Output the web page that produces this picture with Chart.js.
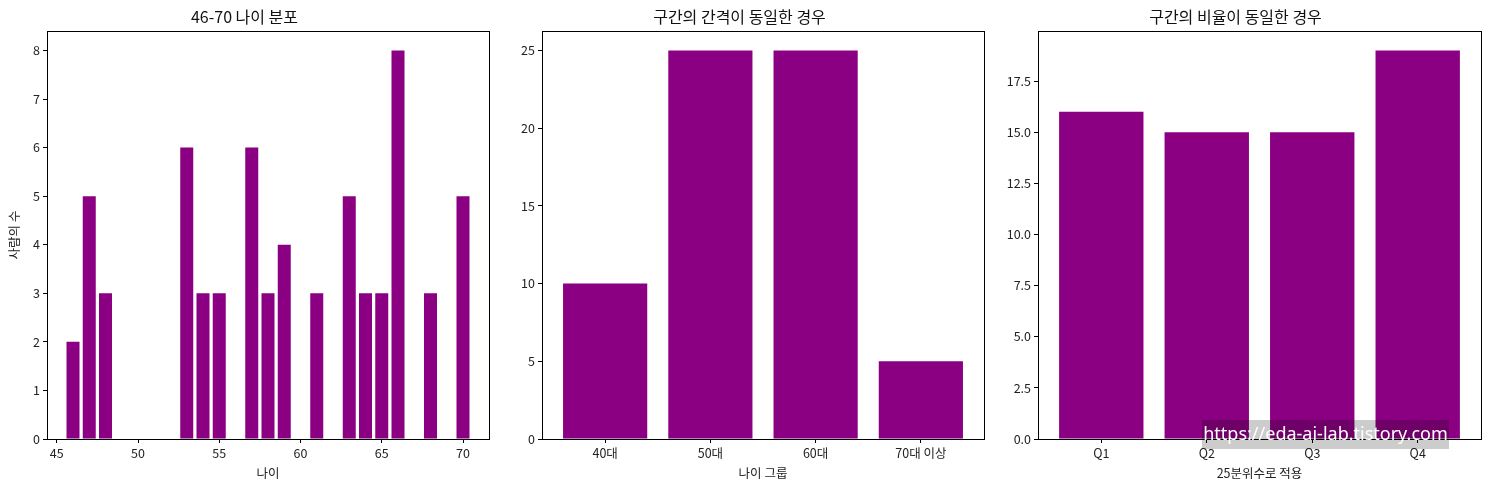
<!DOCTYPE html>
<html>
<head>
<meta charset="utf-8">
<script src="https://cdn.jsdelivr.net/npm/chart.js@4/dist/chart.umd.min.js"></script>
<style>
  body { margin: 0; background: #fff; width: 1489px; height: 490px; position: relative; overflow: hidden; }
  .panel { position: absolute; top: 0; height: 490px; }
  #mark {
    position: absolute; left: 1202px; top: 420px; width: 247px; height: 29px;
    background: rgba(0,0,0,0.2); color: #fff; font: 18px "Noto Sans", "Noto Sans CJK KR", sans-serif;
    line-height: 27px; text-align: center; white-space: nowrap;
  }
</style>
</head>
<body>
<div class="panel" style="left:0;width:490px"><canvas id="c1"></canvas></div>
<div class="panel" style="left:495px;width:490px"><canvas id="c2"></canvas></div>
<div class="panel" style="left:990px;width:492px"><canvas id="c3"></canvas></div>
<div id="mark">https://eda-ai-lab.tistory.com</div>
<script>
"use strict";

// data
const ages = [46, 47, 48, 53, 54, 55, 57, 58, 59, 61, 63, 64, 65, 66, 68, 70];
const ageCounts = [2, 5, 3, 6, 3, 3, 6, 3, 4, 3, 5, 3, 3, 8, 3, 5];
const ageTicks = [45, 50, 55, 60, 65, 70];

const ageGroups = ["40대", "50대", "60대", "70대 이상"];
const groupCounts = [10, 25, 25, 5];

const quartiles = ["Q1", "Q2", "Q3", "Q4"];
const quartileCounts = [16, 15, 15, 19];

const PURPLE = "#8b0083";
const FONT = '"Noto Sans CJK KR", "Noto Sans", sans-serif';

Chart.defaults.font.family = FONT;
Chart.defaults.color = "#222";
Chart.defaults.animation = false;

// matplotlib style box around plot area
const boxPlugin = {
  id: "box",
  afterDraw(chart) {
    const a = chart.chartArea;
    const ctx = chart.ctx;
    ctx.save();
    ctx.strokeStyle = "#000";
    ctx.lineWidth = 1;
    ctx.strokeRect(Math.round(a.left) + 0.5, Math.round(a.top) + 0.5,
      Math.round(a.right - a.left), Math.round(a.bottom - a.top));
    ctx.restore();
  }
};

function makeChart(id, cfg) {
  const points = cfg.xs.map((x, i) => ({ x: x, y: cfg.ys[i] }));
  return new Chart(document.getElementById(id), {
    type: "bar",
    data: {
      datasets: [{
        data: points,
        backgroundColor: PURPLE,
        borderWidth: 0,
        inflateAmount: 0,
        categoryPercentage: 1,
        barPercentage: 0.8
      }]
    },
    options: {
      responsive: false,
      devicePixelRatio: 1,
      layout: { padding: { top: 0, right: 1, bottom: 0, left: 0 } },
      plugins: {
        legend: { display: false },
        tooltip: { enabled: false },
        title: {
          display: true,
          text: cfg.title,
          color: "#111",
          font: { size: 16, weight: "normal" },
          padding: { top: 7, bottom: 4.8 }
        }
      },
      scales: {
        x: {
          type: "linear",
          offset: false,
          bounds: "data",
          min: cfg.xMin,
          max: cfg.xMax,
          grid: { offset: false, drawOnChartArea: false, drawTicks: true, tickLength: 4, color: "#000" },
          border: { display: false },
          afterBuildTicks: s => { s.ticks = cfg.xTicks.map(v => ({ value: v })); },
          ticks: {
            autoSkip: false,
            maxRotation: 0,
            padding: 3,
            font: { size: 12.5 },
            callback: cfg.xLabel
          },
          title: {
            display: true,
            text: cfg.xTitle,
            font: { size: 12.5 },
            padding: { top: 0, bottom: 9 }
          },
          afterFit: s => { s.height = 51; }
        },
        y: {
          min: 0,
          max: cfg.yMax,
          bounds: "data",
          grid: { drawOnChartArea: false, drawTicks: true, tickLength: 4, color: "#000" },
          border: { display: false },
          afterBuildTicks: s => { s.ticks = cfg.yTicks.map(v => ({ value: v })); },
          ticks: {
            padding: 3,
            font: { size: 12.5 },
            callback: cfg.yLabel
          },
          title: {
            display: !!cfg.yTitle,
            text: cfg.yTitle || "",
            font: { size: 12.5 },
            padding: { top: 7, bottom: 0 }
          },
          afterFit: s => { s.width = cfg.yWidth; }
        }
      }
    },
    plugins: [boxPlugin]
  });
}

const canvases = [["c1", 490], ["c2", 490], ["c3", 492]];
canvases.forEach(([id, w]) => {
  const c = document.getElementById(id);
  c.width = w; c.height = 490;
  c.style.width = w + "px"; c.style.height = "490px";
});

makeChart("c1", {
  title: "46-70 나이 분포",
  xs: ages, ys: ageCounts,
  xMin: 44.4, xMax: 71.6, xTicks: ageTicks,
  xLabel: function (v) { return this.getLabelForValue(v); },
  xTitle: "나이",
  yMax: 8.4, yTicks: [0, 1, 2, 3, 4, 5, 6, 7, 8],
  yLabel: v => v,
  yTitle: "사람의 수",
  yWidth: 47
});

makeChart("c2", {
  title: "구간의 간격이 동일한 경우",
  xs: ageGroups.map((g, i) => i), ys: groupCounts,
  xMin: -0.6, xMax: 3.6, xTicks: [0, 1, 2, 3],
  xLabel: v => ageGroups[v] || "",
  xTitle: "나이 그룹",
  yMax: 26.25, yTicks: [0, 5, 10, 15, 20, 25],
  yLabel: v => v,
  yWidth: 47
});

makeChart("c3", {
  title: "구간의 비율이 동일한 경우",
  xs: quartiles.map((q, i) => i), ys: quartileCounts,
  xMin: -0.6, xMax: 3.6, xTicks: [0, 1, 2, 3],
  xLabel: v => quartiles[v] || "",
  xTitle: "25분위수로 적용",
  yMax: 19.95, yTicks: [0, 2.5, 5, 7.5, 10, 12.5, 15, 17.5],
  yLabel: v => v.toFixed(1),
  yWidth: 48
});
</script>
</body>
</html>
